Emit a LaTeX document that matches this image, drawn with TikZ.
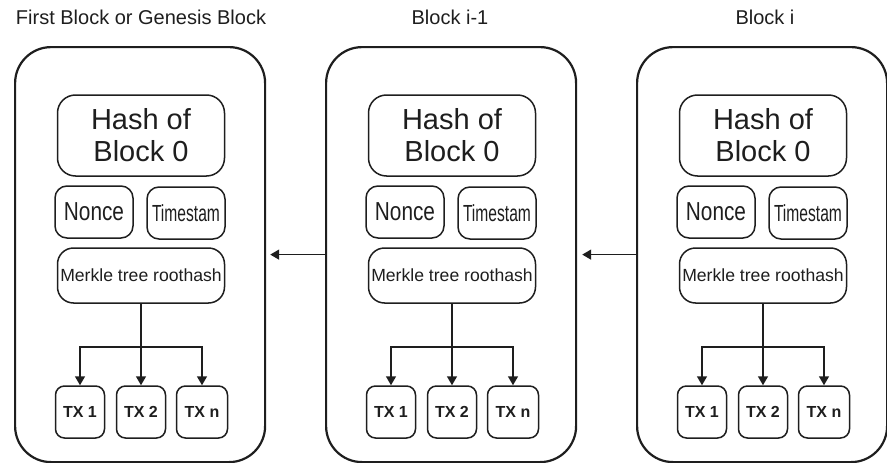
\documentclass[tikz,border=0pt]{standalone}
\usepackage{fontspec}
\setmainfont{Liberation Sans}
\usetikzlibrary{arrows.meta}
\definecolor{ink}{HTML}{1E1E1E}
\begin{document}
\begin{tikzpicture}[x=1pt,y=-1pt,
  outerbox/.style={draw=ink,line width=2.2pt,rounded corners=36pt,minimum width=250pt,minimum height=415pt,anchor=north west,inner sep=0pt},
  inbox/.style={draw=ink,line width=1.5pt,rounded corners=12pt,inner sep=0pt,text=ink},
  hashbox/.style={inbox,minimum width=167pt,minimum height=81pt,rounded corners=18pt,align=center,font=\fontsize{29}{32}\selectfont},
  smallbox/.style={inbox,minimum width=78pt,minimum height=52pt},
  merkbox/.style={inbox,minimum width=167pt,minimum height=55pt,rounded corners=16pt,font=\fontsize{17.6}{20}\selectfont},
  txbox/.style={inbox,minimum width=49pt,minimum height=52pt,rounded corners=9pt,font=\bfseries\fontsize{16}{19}\selectfont},
  titletext/.style={text=ink,font=\fontsize{20}{24}\selectfont,inner sep=0pt},
  arr/.style={draw=ink,line width=1.5pt,-{Triangle[width=10pt,length=9pt]}}
]
\useasboundingbox (0,0) rectangle (887,463);
\foreach \i/\ox in {1/14,2/325,3/636}{
  \node[outerbox] (out\i) at (\ox,46) {};
  \node[hashbox] (hash\i) at (\ox+127,135.5) {Hash of\\Block 0};
  \node[smallbox] (nonce\i) at (\ox+80,212) {\fontsize{26}{28}\selectfont\scalebox{0.8}[1]{Nonce}};
  \node[smallbox] (time\i) at (\ox+172,213) {\fontsize{23.3}{26}\selectfont\scalebox{0.67}[1]{Timestam}};
  \node[merkbox] (merk\i) at (\ox+127,275.5) {Merkle tree roothash};
  \node[txbox] (txa\i) at (\ox+66,412) {TX 1};
  \node[txbox] (txb\i) at (\ox+127,412) {TX 2};
  \node[txbox,minimum width=51pt] (txc\i) at (\ox+188,412) {TX n};
  \coordinate (j\i) at (\ox+127,347);
  \draw[arr] (merk\i.south) -- (txb\i.north);
  \draw[arr] (j\i) -| (txa\i.north);
  \draw[arr] (j\i) -| (txc\i.north);
}
\node[titletext] (t1) at (141,17) {First Block or Genesis Block};
\node[titletext] (t2) at (450,17) {Block i-1};
\node[titletext] (t3) at (765,17) {Block i};
\draw[arr] (out2.west) -- ([xshift=4pt]out1.east);
\draw[arr] (out3.west) -- ([xshift=5pt]out2.east);
\end{tikzpicture}
\end{document}
